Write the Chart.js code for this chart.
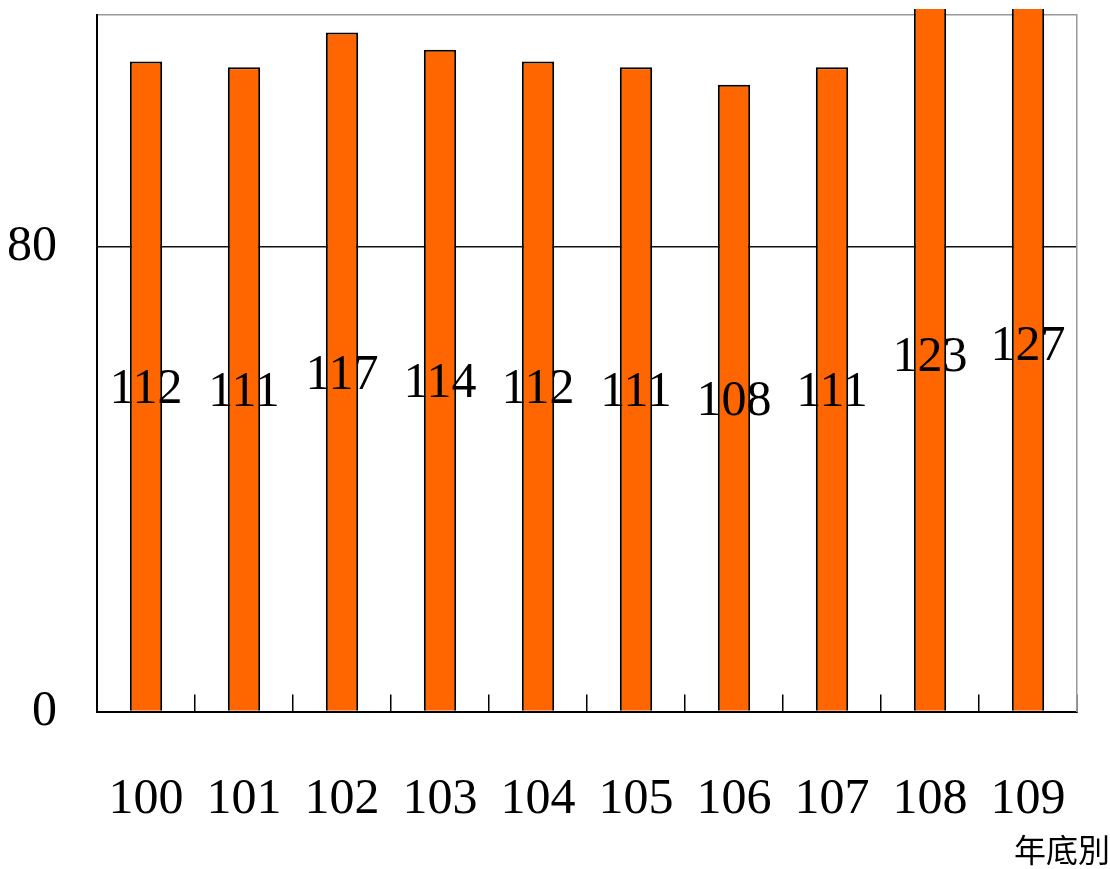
<!DOCTYPE html>
<html>
<head>
<meta charset="utf-8">
<script src="https://cdn.jsdelivr.net/npm/chart.js@4.4.1/dist/chart.umd.min.js"></script>
<style>
  html, body { margin: 0; padding: 0; background: #fff; }
  #wrap { width: 1110px; height: 869px; position: relative; }
</style>
</head>
<body>
<div id="wrap"><canvas id="chart"></canvas></div>
<script>
// chart data
const years = ['100', '101', '102', '103', '104', '105', '106', '107', '108', '109'];
const values = [112, 111, 117, 114, 112, 111, 108, 111, 123, 127];
const yTicks = [0, 80];
const xTitle = '年底別';

const numFont = "'Liberation Serif', 'DejaVu Serif', serif";

// value labels centred on each bar
const barLabels = {
    id: 'barLabels',
    afterDatasetsDraw(chart) {
        const ctx = chart.ctx;
        const meta = chart.getDatasetMeta(0);
        ctx.save();
        ctx.font = `50px ${numFont}`;
        ctx.fillStyle = '#000';
        ctx.textAlign = 'center';
        ctx.textBaseline = 'middle';
        meta.data.forEach((bar, i) => {
            const { x, y, base } = bar.getProps(['x', 'y', 'base'], true);
            ctx.fillText(String(values[i]), x, (y + base) / 2 + 4);
        });
        ctx.restore();
    }
};

// drop the label overflow padding so the plot box stays where we want it
const noPad = s => {
    s.paddingTop = 0; s.paddingBottom = 0;
    s.paddingLeft = 0; s.paddingRight = 0;
};

new Chart(document.getElementById('chart'), {
    type: 'bar',
    data: {
        labels: years,
        datasets: [{
            data: values,
            backgroundColor: '#ff6600',
            borderColor: '#000',
            borderWidth: 2,
            barPercentage: 0.33,
            categoryPercentage: 1,
            clip: { left: 0, right: 0, top: 6, bottom: 0 }
        }]
    },
    options: {
        responsive: true,
        maintainAspectRatio: false,
        animation: false,
        layout: { padding: { top: 15, left: 0, right: 0, bottom: 0 } },
        plugins: {
            legend: { display: false },
            tooltip: { enabled: false },
            title: {
                display: true,
                text: xTitle,
                position: 'bottom',
                align: 'end',
                color: '#000',
                font: { family: "'Noto Sans CJK TC', sans-serif", size: 32, weight: 'normal' },
                padding: { top: 0, bottom: 0 }
            }
        },
        scales: {
            x: {
                grid: {
                    display: true,
                    drawOnChartArea: false,
                    drawTicks: true,
                    tickLength: -17,
                    color: '#000',
                    lineWidth: 1.5
                },
                border: { display: true, color: '#000', width: 2 },
                ticks: {
                    color: '#000',
                    padding: 75,
                    font: { family: numFont, size: 50 }
                },
                afterFit: s => { s.height = 119; noPad(s); }
            },
            y: {
                min: 0,
                max: 120,
                ticks: {
                    stepSize: 80,
                    color: '#000',
                    padding: 40,
                    font: { family: numFont, size: 50 },
                    callback: v => yTicks.includes(v) ? String(v) : ''
                },
                grid: {
                    drawTicks: false,
                    lineWidth: 1.5,
                    color: c => c.tick && c.tick.value === 80 ? '#111' :
                                (c.tick && c.tick.value === 120 ? '#999' : 'rgba(0,0,0,0)')
                },
                border: { display: true, color: '#000', width: 2 },
                afterFit: s => { s.width = 97; noPad(s); }
            },
            y2: {
                position: 'right',
                display: true,
                min: 0,
                max: 120,
                ticks: { display: false },
                grid: { display: false, drawTicks: false },
                border: { display: true, color: '#999', width: 1.5 },
                afterFit: s => { s.width = 33; noPad(s); }
            }
        }
    },
    plugins: [barLabels]
});
</script>
</body>
</html>
